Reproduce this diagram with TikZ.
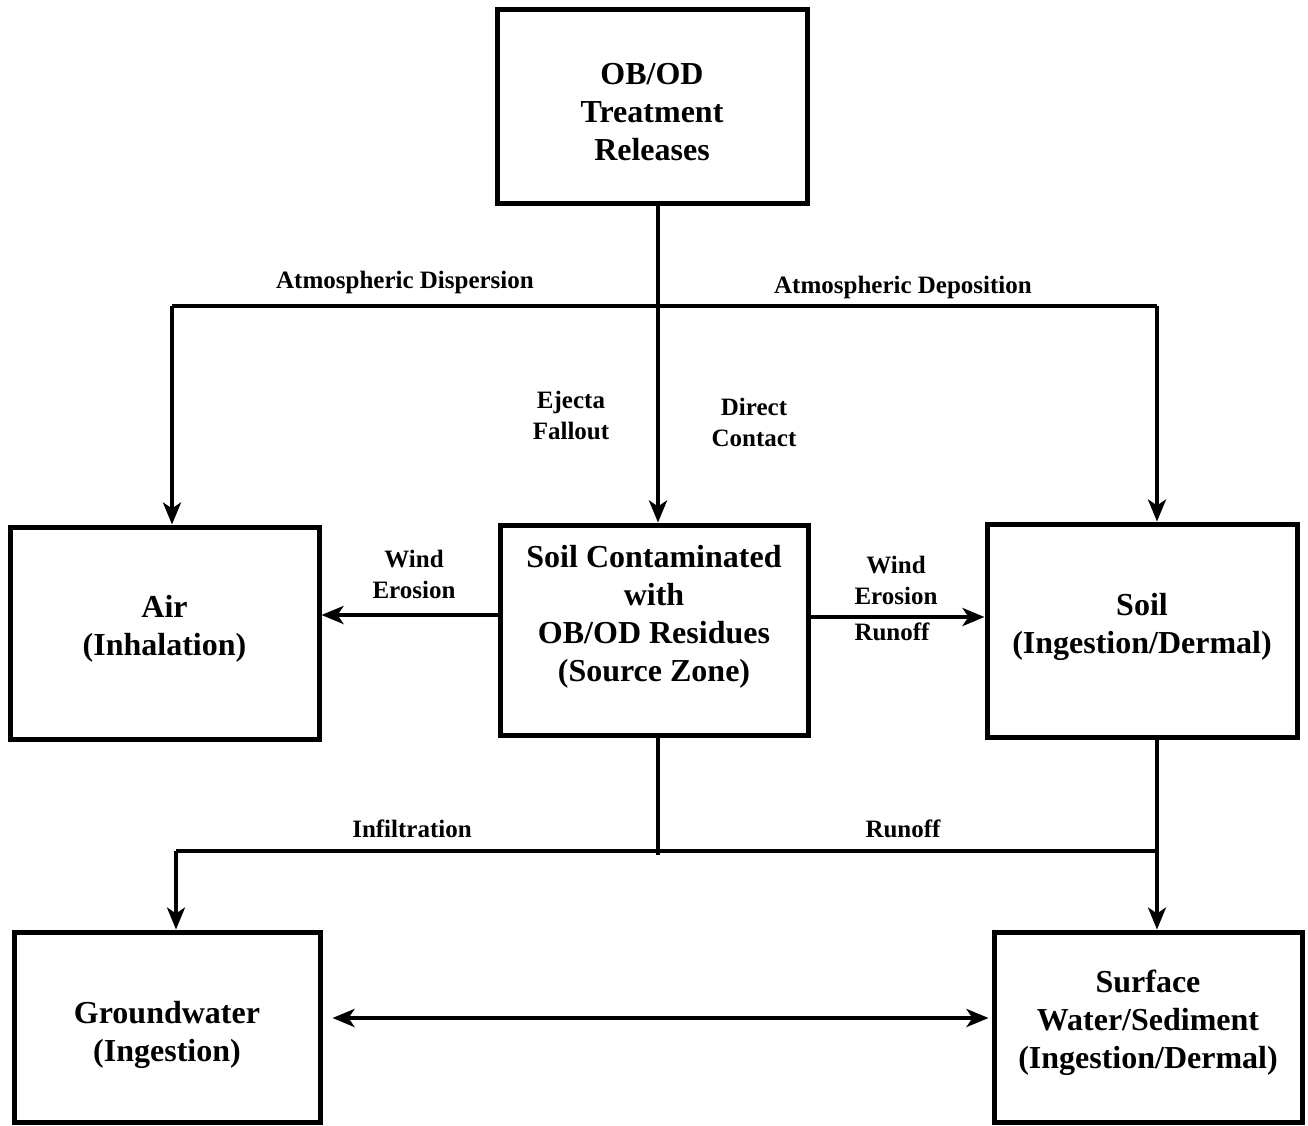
\documentclass[tikz,border=0pt]{standalone}
\usepackage{fontspec}
\setmainfont{Liberation Serif}
\usetikzlibrary{arrows.meta,calc}
\begin{document}
\begin{tikzpicture}[x=1pt,y=-1pt,
  box/.style={draw=black,line width=5pt,rectangle,inner sep=0pt},
  boxtext/.style={align=center,inner sep=0pt,font=\fontsize{32}{38}\selectfont\bfseries},
  lbl/.style={align=center,inner sep=0pt,font=\fontsize{25}{31}\selectfont\bfseries},
  link/.style={line width=4pt},
  flow/.style={line width=4pt,-{Stealth[length=22pt,width=18pt,inset=6pt]}},
  both/.style={line width=4pt,{Stealth[length=22pt,width=18pt,inset=6pt]}-{Stealth[length=22pt,width=18pt,inset=6pt]}}
]
\useasboundingbox[fill=white] (0,0) rectangle (1308,1126);

% boxes
\node[box,minimum width=310,minimum height=193] (top) at (652,106.5) {};
\node[box,minimum width=309,minimum height=212] (air) at (164.5,633) {};
\node[box,minimum width=308,minimum height=210] (src) at (654,630) {};
\node[box,minimum width=310,minimum height=213] (soil) at (1142,630.5) {};
\node[box,minimum width=306,minimum height=190] (gw) at (167,1027) {};
\node[box,minimum width=308,minimum height=190] (sw) at (1148,1027) {};

% box captions
\node[boxtext] (toptext) at (652,112) {OB/OD\\Treatment\\Releases};
\node[boxtext] (airtext) at (164.5,629) {Air\\(Inhalation)};
\node[boxtext] (srctext) at (654,617) {Soil Contaminated\\with\\OB/OD Residues\\(Source Zone)};
\node[boxtext] (soiltext) at (1142,627) {Soil\\(Ingestion/Dermal)};
\node[boxtext] (gwtext) at (167,1035) {Groundwater\\(Ingestion)};
\node[boxtext] (swtext) at (1148,1023) {Surface\\Water/Sediment\\(Ingestion/Dermal)};

% junction points
\coordinate (dl) at (172,306);
\coordinate (dr) at (1157,306);
\coordinate (gl) at (176,851);
\coordinate (gr) at (1157,851);
\coordinate (bj) at (658,855);

% atmospheric pathways
\draw[flow] ([xshift=6]top.south) -- ([xshift=4]src.north);
\draw[link] (dl) -- (dr);
\draw[flow] (dl) -- (dl |- air.north);
\draw[flow] (dr) -- (dr |- soil.north);

% lateral transport from the source zone
\draw[flow] ([yshift=15]src.west) -- ([yshift=15]src.west -| air.east);
\draw[flow] ([yshift=13]src.east) -- ([yshift=13]src.east -| soil.west);

% subsurface and runoff pathways
\draw[link,line width=3.5pt] ([xshift=4]src.south) -- (bj);
\draw[link] (gl) -- (gr);
\draw[flow,line width=3.5pt] (gl) -- (gl |- gw.north);
\draw[flow,line width=3.5pt] ([xshift=15]soil.south) -- ([xshift=15]soil.south |- sw.north);

% groundwater / surface water exchange
\draw[both,shorten <=10pt,shorten >=3pt] ([yshift=9]gw.east) -- ([yshift=9]gw.east -| sw.west);

% pathway labels
\node[lbl] (ldisp) at (405,282) {Atmospheric Dispersion};
\node[lbl] (ldepo) at (903,287) {Atmospheric Deposition};
\node[lbl] (leject) at (571,415) {Ejecta\\Fallout};
\node[lbl] (ldirect) at (754,422) {Direct\\Contact};
\node[lbl] (lwindl) at (414,574) {Wind\\Erosion};
\node[lbl] (lwindr) at (896,580) {Wind\\Erosion};
\node[lbl] (lrunr) at (892,632) {Runoff};
\node[lbl] (linfil) at (412,829) {Infiltration};
\node[lbl] (lrunb) at (903,829) {Runoff};
\end{tikzpicture}
\end{document}
